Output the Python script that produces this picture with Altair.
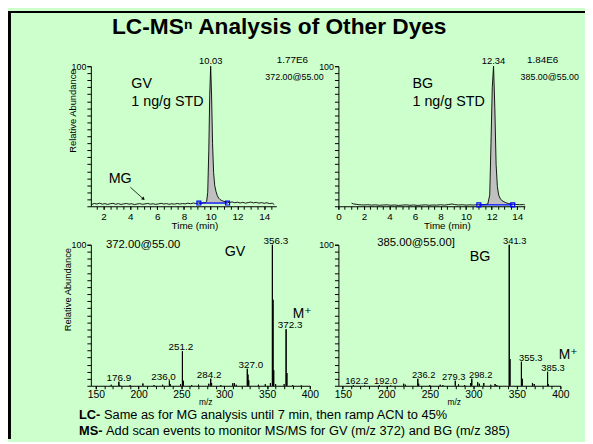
import altair as alt
import pandas as pd

FONT = "Liberation Sans, Arial, Helvetica, DejaVu Sans, sans-serif"
GREEN = "#ccffcc"

# ---------------- data ----------------
title_text = "LC-MS\u207f Analysis of Other Dyes"

# GV chromatogram (372.00@55.00)
gv_time = [1.10, 1.30, 1.50, 1.70, 1.90, 2.10, 2.30, 2.50, 2.70, 2.90,
           3.10, 3.30, 3.50, 3.70, 3.90, 4.10, 4.30, 4.50, 4.70, 4.90,
           5.10, 5.30, 5.50, 5.70, 5.90, 6.10, 6.30, 6.50, 6.70, 6.90,
           7.10, 7.30, 7.50, 7.70, 7.90, 8.10, 8.30, 8.50, 8.70, 8.90,
           9.10, 9.30, 9.45, 9.60, 9.70, 9.78, 9.86, 9.93, 10.00, 10.07,
           10.14, 10.22, 10.30, 10.40, 10.50, 10.60, 10.70, 10.80, 10.95, 11.10,
           11.25, 11.40, 11.60, 11.80, 12.00, 12.20, 12.40, 12.60, 12.80, 13.00,
           13.20, 13.40, 13.60, 13.80, 14.00, 14.20, 14.40, 14.60, 14.75]
gv_abund = [1.2, 2.0, 1.6, 2.2, 1.5, 1.9, 1.3, 1.8, 2.1, 1.4,
            1.9, 1.3, 1.7, 2.0, 1.5, 1.8, 1.2, 1.6, 1.9, 1.4,
            1.7, 2.0, 1.5, 1.8, 1.3, 1.7, 2.1, 1.6, 1.9, 1.4,
            1.8, 1.5, 2.0, 1.6, 1.9, 1.7, 2.2, 1.8, 2.3, 2.0,
            2.4, 2.1, 2.5, 2.6, 3.5, 10, 40, 80, 100, 78,
            45, 24, 15, 10.5, 7.5, 5.8, 4.8, 4.2, 3.6, 3.2,
            2.9, 2.6, 3.1, 2.5, 2.9, 2.3, 2.8, 2.2, 2.6, 3.0,
            2.4, 2.8, 2.2, 2.6, 2.1, 2.5, 1.9, 2.2, 1.2]
gv_peak_window = [9.60, 11.25]
gv_baseline = [9.12, 11.26]
gv_baseline_level = 2.3

# BG chromatogram (385.00@55.00)
bg_time = [1.03, 1.2, 1.4, 1.6, 1.8, 2.0, 2.3, 2.6, 2.9, 3.2,
           3.5, 3.8, 4.1, 4.4, 4.7, 5.0, 5.3, 5.6, 5.9, 6.2,
           6.5, 6.8, 7.1, 7.4, 7.7, 8.0, 8.3, 8.6, 8.9, 9.1,
           9.4, 9.7, 10.0, 10.3, 10.6, 10.9, 11.2, 11.5, 11.7, 11.85,
           11.95, 12.05, 12.15, 12.25, 12.35, 12.45, 12.55, 12.7, 12.9, 13.1,
           13.3, 13.6, 13.9, 14.2, 14.5, 14.6]
bg_abund = [2.2, 1.6, 1.4, 1.1, 1.0, 0.9, 1.1, 0.8, 1.0, 0.7,
            0.9, 1.0, 0.7, 0.9, 0.6, 0.8, 1.0, 0.7, 0.9, 0.6,
            0.8, 1.0, 0.7, 0.9, 0.8, 1.1, 0.8, 1.2, 1.6, 1.2,
            0.9, 1.1, 0.8, 1.0, 0.9, 1.1, 1.0, 1.2, 1.6, 8,
            45, 85, 100, 70, 30, 14, 8, 5, 3.5, 2.6,
            2.0, 1.5, 1.3, 1.1, 1.2, 1.0]
bg_peak_window = [11.70, 13.60]
bg_baseline = [11.0, 13.65]
bg_baseline_level = 1.0

# GV MS/MS spectrum
gv_mz = [168.0, 176.9, 178.0, 190.0, 205.0, 218.0, 228.0, 236.0, 237.0, 249.0,
         251.2, 252.2, 262.0, 270.0, 282.0, 284.2, 285.2, 296.0, 310.0, 312.0,
         314.0, 327.0, 327.7, 328.6, 340.0, 348.0, 354.0, 356.3, 357.0, 357.8,
         360.0, 370.0, 372.3, 373.2, 380.0, 390.0]
gv_ms_abund = [0.8, 2.8, 0.6, 0.5, 1.6, 0.6, 0.8, 3.7, 1.0, 1.0,
               24.5, 3.5, 0.6, 0.8, 1.5, 5.0, 2.0, 0.6, 1.8, 1.9,
               0.8, 12.0, 8.0, 4.0, 0.8, 1.0, 2.0, 100, 61, 11,
               1.0, 1.0, 40, 9, 0.5, 0.4]
gv_ms_labels = ["176.9", "236.0", "251.2", "284.2", "327.0", "356.3", "372.3"]
gv_label_dx = [0, -6, -1.5, -1.5, 3.5, 3.5, 4]

# BG MS/MS spectrum
bg_mz = [162.2, 175.0, 192.0, 205.0, 220.0, 222.0, 236.2, 237.2, 250.0, 262.0,
         265.0, 279.3, 283.0, 290.0, 297.0, 298.2, 305.0, 307.0, 312.0, 320.0,
         325.0, 327.0, 341.3, 342.1, 355.3, 356.2, 368.0, 370.0, 385.3, 386.2]
bg_ms_abund = [0.6, 0.3, 0.6, 0.4, 1.5, 0.8, 5.0, 1.5, 0.5, 0.8,
               0.6, 3.5, 1.0, 0.6, 2.0, 5.0, 2.5, 1.5, 2.0, 0.8,
               1.2, 0.6, 100, 19, 17, 5, 2.0, 1.2, 10, 1.0]
bg_ms_labels = ["162.2", "192.0", "236.2", "279.3", "298.2", "341.3", "355.3", "385.3"]
bg_label_dx = [3.5, 6.5, 6, -1.5, 9, 5.5, 9.5, 5.5]

notes_bold = ["LC-", "MS-"]
notes_rest = ["Same as for MG analysis until 7 min, then ramp ACN to 45%",
              "Add scan events to monitor MS/MS for GV (m/z 372) and BG (m/z 385)"]


# ---------------- helpers ----------------
def main_y_axis(title, tx):
    kw = dict(orient="left", values=[100], tickSize=4, labelFontSize=9, labelPadding=1,
              labelOverlap=False, grid=False)
    if title:
        kw.update(title=title, titleFontSize=9.5, titleFontWeight="normal",
                  titleX=tx, titleY=45, titleAngle=270, titleBaseline="middle",
                  titleAlign="center")
    else:
        kw.update(title=None)
    return alt.Axis(**kw)


MINOR_Y = alt.Axis(orient="left", values=list(range(0, 101, 5)), labels=False,
                   tickSize=4, domain=False, grid=False, title=None)


def txt(df, size, align="center", baseline="middle", dx=0, dy=0, xf="t"):
    return alt.Chart(pd.DataFrame(df)).mark_text(
        align=align, baseline=baseline, fontSize=size, font=FONT, dx=dx, dy=dy).encode(
        x=alt.X(f"{xf}:Q", axis=None), y=alt.Y("v:Q", axis=None), text="s:N")


def chrom_layers(times, abund, window, bl, bl_level, domain, major, minor,
                 ytitle, ytx, title_x, texts_big, peak_label, hdr):
    df = pd.DataFrame({"t": times, "v": abund})
    pk = df[(df.t >= window[0]) & (df.t <= window[1])].copy()
    pk["b"] = bl_level
    xs = alt.Scale(domain=domain, nice=False, zero=False)
    ys = alt.Scale(domain=[0, 100], nice=False)
    main_x = alt.Axis(orient="bottom", values=major, format="d", tickSize=3,
                      labelFontSize=10, labelPadding=2, labelOverlap=False,
                      labelFlush=False, grid=False,
                      title="Time (min)", titleFontSize=10, titleFontWeight="normal",
                      titleX=title_x, titleY=20, titleBaseline="middle", titleAlign="center")
    minor_x = alt.Axis(orient="bottom", values=minor, labels=False, tickSize=3,
                       domain=False, grid=False, title=None)
    area = alt.Chart(pk).mark_area(color="#c0c0c0", opacity=1).encode(
        x=alt.X("t:Q", scale=xs, axis=main_x),
        y=alt.Y("v:Q", scale=ys, axis=main_y_axis(ytitle, ytx)),
        y2="b:Q")
    line = alt.Chart(df).mark_line(color="black", strokeWidth=0.9).encode(
        x=alt.X("t:Q", axis=minor_x), y=alt.Y("v:Q", axis=MINOR_Y))
    bdf = pd.DataFrame({"t": bl, "v": [bl_level, bl_level]})
    bline = alt.Chart(bdf).mark_line(color="#0000ff", strokeWidth=1.3).encode(
        x=alt.X("t:Q", axis=None), y=alt.Y("v:Q", axis=None))
    bpts = alt.Chart(bdf).mark_point(shape="square", filled=False, color="#0000ff",
                                     size=16, strokeWidth=1.2, opacity=1).encode(
        x=alt.X("t:Q", axis=None), y=alt.Y("v:Q", axis=None))
    big = txt(texts_big, 14.5, align="left")
    apex = df.loc[df.v.idxmax()]
    pl = txt([{"t": apex.t, "v": apex.v, "s": peak_label}], 9.5,
             baseline="alphabetic", dy=-2)
    h1 = txt(hdr[0:1], 10)
    h2 = txt(hdr[1:2], 9)
    return [area, line, bline, bpts, big, pl, h1, h2]


def spec_layers(mz, ab, labels, label_dx, label_size, domain, ytitle, ytx, title_x,
                hdr, name, mplus):
    df = pd.DataFrame({"m": mz, "v": ab})
    lookup = dict(zip(mz, ab))
    xs = alt.Scale(domain=domain, nice=False, zero=False)
    ys = alt.Scale(domain=[0, 100], nice=False)
    main_x = alt.Axis(orient="bottom", values=list(range(150, 401, 50)), format="d",
                      tickSize=3, labelFontSize=10.5, labelPadding=1, labelOverlap=False,
                      labelFlush=False, grid=False,
                      title="m/z", titleFontSize=8.5, titleFontWeight="normal",
                      titleX=title_x, titleY=16, titleBaseline="middle", titleAlign="center")
    minor_x = alt.Axis(orient="bottom", values=list(range(150, 401, 10)), labels=False,
                       tickSize=3, domain=False, grid=False, title=None)
    bars = alt.Chart(df).mark_rule(color="black", strokeWidth=1.1).encode(
        x=alt.X("m:Q", scale=xs, axis=main_x),
        y=alt.Y("v:Q", scale=ys, axis=main_y_axis(ytitle, ytx)),
        y2=alt.datum(0))
    ticks = alt.Chart(df).mark_rule(color="black", strokeWidth=1.1).encode(
        x=alt.X("m:Q", axis=minor_x), y=alt.Y("v:Q", axis=MINOR_Y), y2=alt.datum(0))
    labs = [txt([{"m": float(s), "v": lookup[float(s)], "s": s}], label_size,
                baseline="alphabetic", dy=-1, dx=d, xf="m")
            for s, d in zip(labels, label_dx)]
    hd = txt([hdr], 11.5, xf="m")
    nm = txt([name], 14.5, xf="m")
    mp = txt([mplus], 14, xf="m")
    return [bars, ticks, *labs, hd, nm, mp]


# ---------------- panels ----------------
gv_major = list(range(2, 15, 2))
gv_minor = [round(1.5 + 0.5 * i, 1) for i in range(27)]
bg_major = list(range(0, 15, 2))
bg_minor = [round(0.5 * i, 1) for i in range(30)]

one = pd.DataFrame({"s": [title_text]})

p1_layers = chrom_layers(
    gv_time, gv_abund, gv_peak_window, gv_baseline, gv_baseline_level,
    [1.05, 14.9], gv_major, gv_minor, "Relative Abundance", -19, 105,
    [{"t": 4.07, "v": 87.3, "s": "GV"}, {"t": 4.07, "v": 74.6, "s": "1 ng/g STD"},
     {"t": 2.38, "v": 19.7, "s": "MG"}],
    "10.03",
    [{"t": 16.1, "v": 104.2, "s": "1.77E6"}, {"t": 16.26, "v": 92.6, "s": "372.00@55.00"}])
arrow_df = pd.DataFrame({"t": [4.0, 4.95], "v": [13.6, 5.4]})
arrow_line = alt.Chart(arrow_df).mark_line(color="black", strokeWidth=0.8).encode(
    x=alt.X("t:Q", axis=None), y=alt.Y("v:Q", axis=None))
arrow_head = alt.Chart(arrow_df.iloc[1:]).mark_point(
    shape="triangle", filled=True, color="black", size=14, angle=132, opacity=1).encode(
    x=alt.X("t:Q", axis=None), y=alt.Y("v:Q", axis=None))
# slide decorations (title and frame), drawn in the first panel's coordinates
title_mark = alt.Chart(one).mark_text(
    font=FONT, fontSize=23, fontWeight="bold", align="center", baseline="middle").encode(
    text="s:N", x=alt.value(191), y=alt.value(-40))
top_bar = alt.Chart(one).mark_rect(color="#000000").encode(
    x=alt.value(-84), x2=alt.value(501), y=alt.value(-56), y2=alt.value(-54))
left_bar = alt.Chart(one).mark_rect(color="#000000").encode(
    x=alt.value(-84), x2=alt.value(-81), y=alt.value(-54), y2=alt.value(378))
p1 = alt.layer(*p1_layers, arrow_line, arrow_head, title_mark, top_bar, left_bar).resolve_axis(
    x="independent", y="independent").properties(width=188, height=142)

p2_layers = chrom_layers(
    bg_time, bg_abund, bg_peak_window, bg_baseline, bg_baseline_level,
    [0, 14.6], bg_major, bg_minor, None, 0, 110,
    [{"t": 5.8, "v": 87.3, "s": "BG"}, {"t": 5.8, "v": 74.6, "s": "1 ng/g STD"}],
    "12.34",
    [{"t": 16.0, "v": 104.2, "s": "1.84E6"}, {"t": 16.55, "v": 92.6, "s": "385.00@55.00"}])
p2 = alt.layer(*p2_layers).resolve_axis(x="independent", y="independent").properties(
    width=189, height=142)

p3_layers = spec_layers(gv_mz, gv_ms_abund, gv_ms_labels, gv_label_dx, 10, [144.2, 400],
                        "Relative Abundance", -24, 116,
                        {"m": 205.3, "v": 100, "s": "372.00@55.00"},
                        {"m": 312.6, "v": 95, "s": "GV"},
                        {"m": 391, "v": 51, "s": "M\u207a"})
notes_df = pd.DataFrame({"b": notes_bold, "r": notes_rest})
nb0 = alt.Chart(notes_df.iloc[0:1]).mark_text(font=FONT, fontSize=13, fontWeight="bold",
                                              align="left", baseline="middle").encode(
    x=alt.value(-12), y=alt.value(173), text="b:N")
nb1 = alt.Chart(notes_df.iloc[1:2]).mark_text(font=FONT, fontSize=13, fontWeight="bold",
                                              align="left", baseline="middle").encode(
    x=alt.value(-12), y=alt.value(189), text="b:N")
nr0 = alt.Chart(notes_df.iloc[0:1]).mark_text(font=FONT, fontSize=13, align="left",
                                              baseline="middle").encode(
    x=alt.value(-12 + 25.3), y=alt.value(173), text="r:N")
nr1 = alt.Chart(notes_df.iloc[1:2]).mark_text(font=FONT, fontSize=13, align="left",
                                              baseline="middle").encode(
    x=alt.value(-12 + 27.4), y=alt.value(189), text="r:N")
p3 = alt.layer(*p3_layers, nb0, nb1, nr0, nr1).resolve_axis(
    x="independent", y="independent").properties(width=222, height=143)

p4_layers = spec_layers(bg_mz, bg_ms_abund, bg_ms_labels, bg_label_dx, 9.5, [145, 400],
                        None, 0, 117,
                        {"m": 234.2, "v": 101, "s": "385.00@55.00]"},
                        {"m": 307.8, "v": 91.6, "s": "BG"},
                        {"m": 409, "v": 22, "s": "M\u207a"})
p4 = alt.layer(*p4_layers).resolve_axis(x="independent", y="independent").properties(
    width=225, height=143)

chart = alt.concat(
    p1, p2, p3, p4, columns=2, spacing={"row": 39, "column": 29}, bounds="flush"
).properties(background=GREEN, padding=0).configure_view(strokeWidth=0).configure_axis(
    labelFont=FONT, titleFont=FONT, domainColor="black", tickColor="black",
    labelColor="black", titleColor="black", domainWidth=1, tickWidth=1, grid=False
).configure_text(font=FONT, color="black")

chart.save("out.html", embed_options={"renderer": "svg", "actions": False})
